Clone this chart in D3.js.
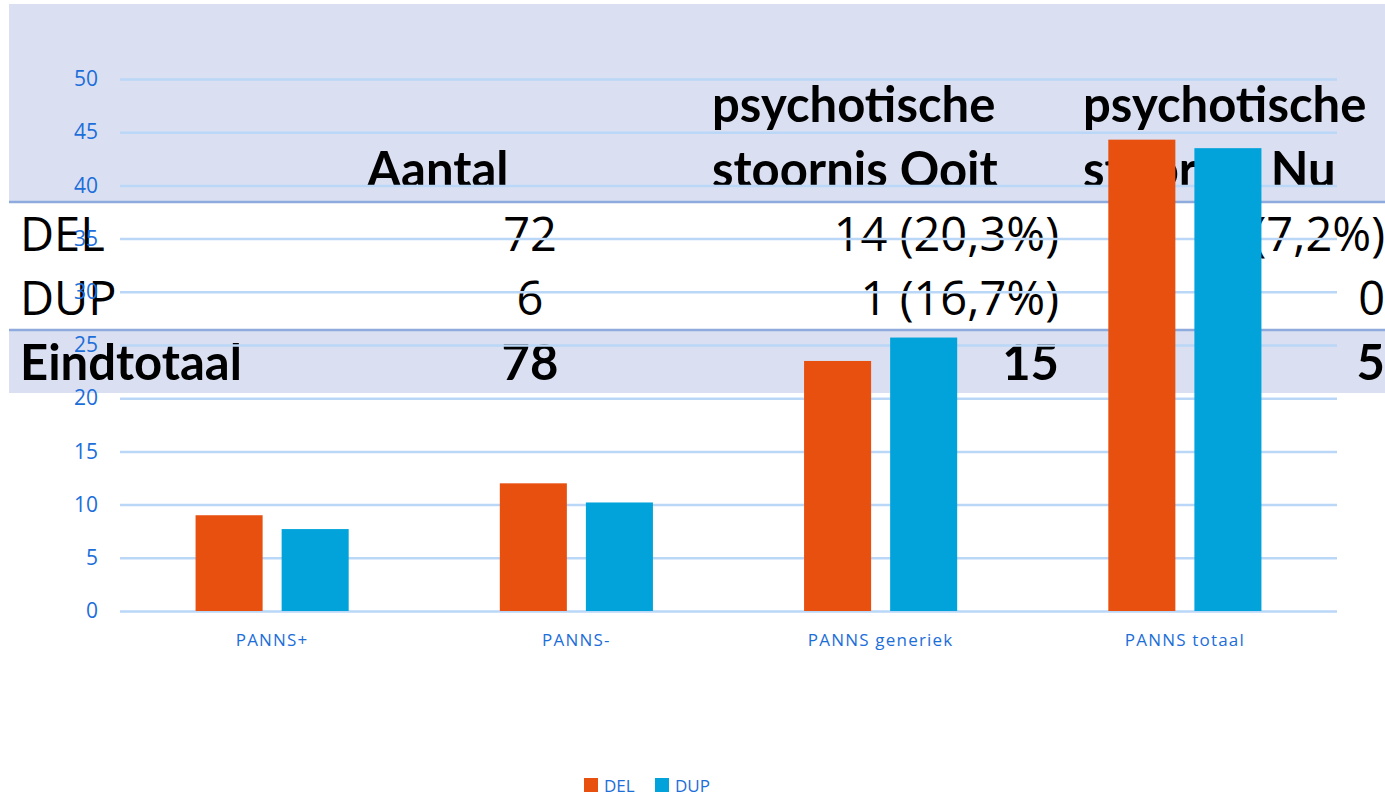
<!DOCTYPE html>
<html>
<head>
<meta charset="utf-8">
<script src="https://cdn.jsdelivr.net/npm/d3@7"></script>
<style>
  body{margin:0;background:#fff;}
  svg{display:block;}
</style>
</head>
<body>
<svg id="stage" width="1385" height="797"></svg>
<script>
// chart data
var categories=["PANNS+","PANNS-","PANNS generiek","PANNS totaal"];
var seriesNames=["DEL","DUP"];
var delValues=[9.0,12.0,23.5,44.3];
var dupValues=[7.7,10.2,25.7,43.5];
var yTicks=[0,5,10,15,20,25,30,35,40,45,50];

// table pasted over the chart
var headerLine1=["","","psychotische","psychotische"];
var headerLine2=["","Aantal","stoornis Ooit","stoornis Nu"];
var rowLabels=["DEL","DUP","Eindtotaal"];
var colAantal=["72","6","78"];
var colOoit=["14 (20,3%)","1 (16,7%)","15"];
var colNu=["5 (7,2%)","0","5"];

var svg=d3.select("#stage");
var blue="#1c6ed9";
var gridColor="#bad7f7";
var colors={DEL:"#e7500f",DUP:"#02a3da"};

//////////// table layer (sits underneath the chart)
var tbl=svg.append("g").attr("class","table");
tbl.append("rect").attr("x",9).attr("y",4).attr("width",1376).attr("height",197).attr("fill","#dae0f2");
tbl.append("rect").attr("x",9).attr("y",330).attr("width",1376).attr("height",63).attr("fill","#dae0f2");
tbl.append("line").attr("x1",9).attr("x2",1385).attr("y1",202).attr("y2",202).attr("stroke","#8faadc").attr("stroke-width",2.5);
tbl.append("line").attr("x1",9).attr("x2",1385).attr("y1",330).attr("y2",330).attr("stroke","#8faadc").attr("stroke-width",2.5);

var boldFont="Lato, sans-serif";
var regFont="'Open Sans', sans-serif";

function cell(txt,x,y,anchor,bold){
  tbl.append("text")
    .attr("x",x).attr("y",y)
    .attr("text-anchor",anchor)
    .attr("font-family",bold?boldFont:regFont)
    .attr("font-weight",bold?700:400)
    .attr("font-size",bold?49:47)
    .attr("fill","#000")
    .text(txt);
}
// header
cell(headerLine2[1],367,187,"start",true);
cell(headerLine1[2],712,122,"start",true);
cell(headerLine2[2],712,187,"start",true);
cell(headerLine1[3],1083,122,"start",true);
cell(headerLine2[3],1083,187,"start",true);
// rows
var rowBase=[251,315,380];
rowLabels.forEach(function(r,i){
  var b=(i===2);
  cell(r,20,rowBase[i],"start",b);
  cell(colAantal[i],530,rowBase[i],"middle",b);
  cell(colOoit[i],1059,rowBase[i],"end",b);
  cell(colNu[i],1385,rowBase[i],"end",b);
});

//////////// chart layer
var plotL=120,plotR=1337,plotT=79,plotB=611;
var y=d3.scaleLinear().domain([0,50]).range([plotB,plotT]);
var x=d3.scaleBand().domain(categories).range([plotL,plotR]).padding(0);
var xSub=d3.scaleBand().domain(seriesNames).range([0,x.bandwidth()]).paddingInner(0.221).paddingOuter(0.878);

var yAxis=svg.append("g")
  .attr("transform","translate("+plotL+",0)")
  .call(d3.axisLeft(y).tickValues(yTicks).tickSize(-(plotR-plotL)).tickPadding(22));
yAxis.select(".domain").remove();
yAxis.selectAll(".tick line").attr("stroke",gridColor).attr("stroke-width",2.5);
yAxis.selectAll(".tick text")
  .attr("fill",blue).attr("font-family",regFont).attr("font-size",21);

var xAxis=svg.append("g")
  .attr("transform","translate(0,"+plotB+")")
  .call(d3.axisBottom(x).tickSize(0).tickPadding(23));
xAxis.select(".domain").remove();
xAxis.selectAll(".tick text")
  .attr("fill",blue).attr("font-family",regFont).attr("font-size",17)
  .attr("letter-spacing","1.2px");

var barData=categories.map(function(c,i){
  return {cat:c,values:[{name:"DEL",v:delValues[i]},{name:"DUP",v:dupValues[i]}]};
});
var groups=svg.append("g").selectAll("g")
  .data(barData).enter().append("g")
  .attr("transform",function(d){return "translate("+x(d.cat)+",0)";});
groups.selectAll("rect")
  .data(function(d){return d.values;})
  .enter().append("rect")
  .attr("x",function(d){return xSub(d.name);})
  .attr("width",xSub.bandwidth())
  .attr("y",function(d){return y(d.v);})
  .attr("height",function(d){return y(0)-y(d.v);})
  .attr("fill",function(d){return colors[d.name];});

//////////// legend
var legend=svg.append("g").attr("transform","translate(584,778)");
var legX=[0,71];
seriesNames.forEach(function(s,i){
  var g=legend.append("g").attr("transform","translate("+legX[i]+",0)");
  g.append("rect").attr("width",14).attr("height",14).attr("fill",colors[s]);
  g.append("text").attr("x",20).attr("y",14)
    .attr("fill",blue).attr("font-family",regFont).attr("font-size",17)
    .text(s);
});
</script>
</body>
</html>
